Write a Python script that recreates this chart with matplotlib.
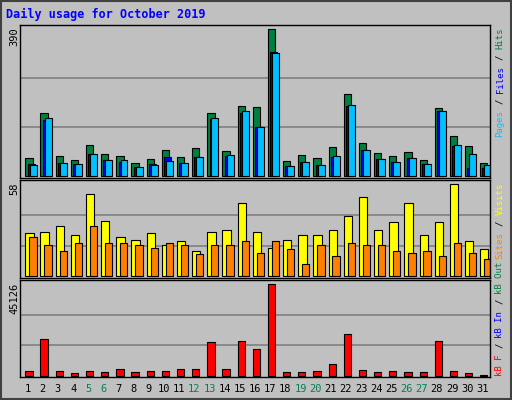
import matplotlib
matplotlib.use("Agg")
import matplotlib.pyplot as plt
import numpy as np

# -------- DATA --------
days = list(range(1, 32))
weekend = [5, 6, 12, 13, 19, 20, 26, 27]
hits = [48, 167, 53, 42, 82, 58, 53, 34, 45, 69, 50, 74, 167, 66, 186, 183, 390,
        40, 56, 48, 77, 218, 88, 61, 53, 64, 42, 180, 106, 80, 34]
files = [32, 149, 35, 32, 58, 42, 37, 24, 32, 50, 35, 50, 152, 53, 167, 130, 331,
         27, 37, 29, 50, 186, 69, 45, 37, 48, 32, 172, 80, 21, 21]
pages = [29, 154, 35, 32, 58, 42, 42, 24, 29, 40, 35, 50, 156, 56, 172, 130, 326,
         27, 37, 29, 53, 188, 69, 45, 37, 48, 32, 172, 82, 58, 29]
visits = [27, 28, 32, 26, 52, 35, 25, 23, 27, 20, 22, 16, 28, 29, 46, 28, 18,
          23, 26, 26, 29, 38, 50, 29, 34, 46, 26, 34, 58, 22, 17]
sites = [25, 20, 16, 21, 32, 21, 21, 20, 18, 21, 20, 14, 20, 20, 22, 15, 22,
         17, 8, 20, 13, 21, 20, 20, 16, 15, 16, 13, 21, 15, 11]
kbytes = [2141, 17952, 2141, 1153, 2141, 1647, 3129, 1647, 2141, 2141, 3129, 3129,
          16470, 3129, 16963, 13011, 45126, 1647, 1647, 2141, 5600, 20422, 2635,
          1647, 2141, 1647, 1647, 16963, 2141, 1153, 494]

BG = "#C0C0C0"
W, H = 512, 400
MONO = "DejaVu Sans Mono"

fig = plt.figure(figsize=(W / 100, H / 100), dpi=100)
fig.patch.set_facecolor(BG)


def px_axes(x0, y0, x1, y1):
    return fig.add_axes([x0 / W, 1 - y1 / H, (x1 - x0) / W, (y1 - y0) / H])


def setup(ax, top_px, bot_px, zero_px, max_px, vmax, label):
    k = (zero_px - max_px) / vmax
    ax.set_ylim(-(bot_px - zero_px) / k, vmax + (max_px - top_px) / k)
    ax.set_xlim(0.5, 31.5)
    ax.set_facecolor(BG)
    for v in (vmax / 3, vmax * 2 / 3):
        ax.axhline(v, color="#808080", lw=1.2, zorder=0)
    ax.set_xticks([])
    ax.set_yticks([])
    for s in ax.spines.values():
        s.set_color("black")
        s.set_linewidth(1)
    fig.text(14 / W, 1 - (max_px - 2) / H, label, rotation=90, ha="center", va="top",
             fontsize=7.5, family=MONO)


x = np.array(days)
kw = dict(align="edge", edgecolor="black", linewidth=0.8)

# -------- TOP: hits / files / pages --------
ax1 = px_axes(20, 25, 490, 178)
setup(ax1, 25, 178, 176.3, 29.3, 390, "390")
ax1.bar(x - 0.15, hits, width=0.48, color="#008040", **kw)
ax1.bar(x + 0.0, files, width=0.46, color="#0000FF", **kw)
ax1.bar(x + 0.13, pages, width=0.46, color="#00C0FF", **kw)

# -------- MIDDLE: visits / sites --------
ax2 = px_axes(20, 180, 490, 278)
setup(ax2, 180, 278, 276.3, 184.3, 58, "58")
ax2.bar(x - 0.15, visits, width=0.55, color="#FFFF00", **kw)
ax2.bar(x + 0.11, sites, width=0.48, color="#FF8000", **kw)

# -------- BOTTOM: kB --------
ax3 = px_axes(20, 280, 490, 377)
setup(ax3, 280, 377, 375.7, 284.3, 45126, "45126")
ax3.bar(x - 0.15, kbytes, width=0.48, color="#FF0000", **kw)

# day labels
for d in days:
    xp = 20 + (d - 0.5) * 470 / 31
    fig.text(xp / W, 1 - 389 / H, str(d), ha="center", va="center", fontsize=7.5,
             family=MONO, color="#00805C" if d in weekend else "black")

# title
fig.text(6 / W, 1 - 14 / H, "Daily usage for October 2019", ha="left", va="center",
         fontsize=8.5, family=MONO, fontweight="bold", color="#0000FF")

# right-side rotated legends
CH = 5.5


def side_label(y_bottom, parts):
    y = y_bottom
    for txt, col in parts:
        t = txt.strip()
        lead = len(txt) - len(txt.lstrip())
        fig.text(500 / W, 1 - (y - lead * CH) / H, t, rotation=90, ha="center",
                 va="bottom", fontsize=6.5, family=MONO, color=col)
        y -= CH * len(txt)


side_label(137, [("Pages", "#00C0FF"), (" / ", "black"), ("Files", "#0000FF"),
                 (" / ", "black"), ("Hits", "#008040")])
side_label(259, [("Sites", "#FF8000"), (" / ", "black"), ("Visits", "#FFFF00")])
side_label(376, [("kB F", "#FF0000"), (" / ", "black"), ("kB In", "#0000FF"),
                 (" / ", "black"), ("kB Out", "#008040")])

# outer frame
fig.patches.append(plt.Rectangle((0.002, 0.002), 0.996, 0.996, transform=fig.transFigure,
                                 fill=False, edgecolor="#404040", linewidth=1.5))

fig.savefig("out.png", dpi=100, facecolor=BG)
